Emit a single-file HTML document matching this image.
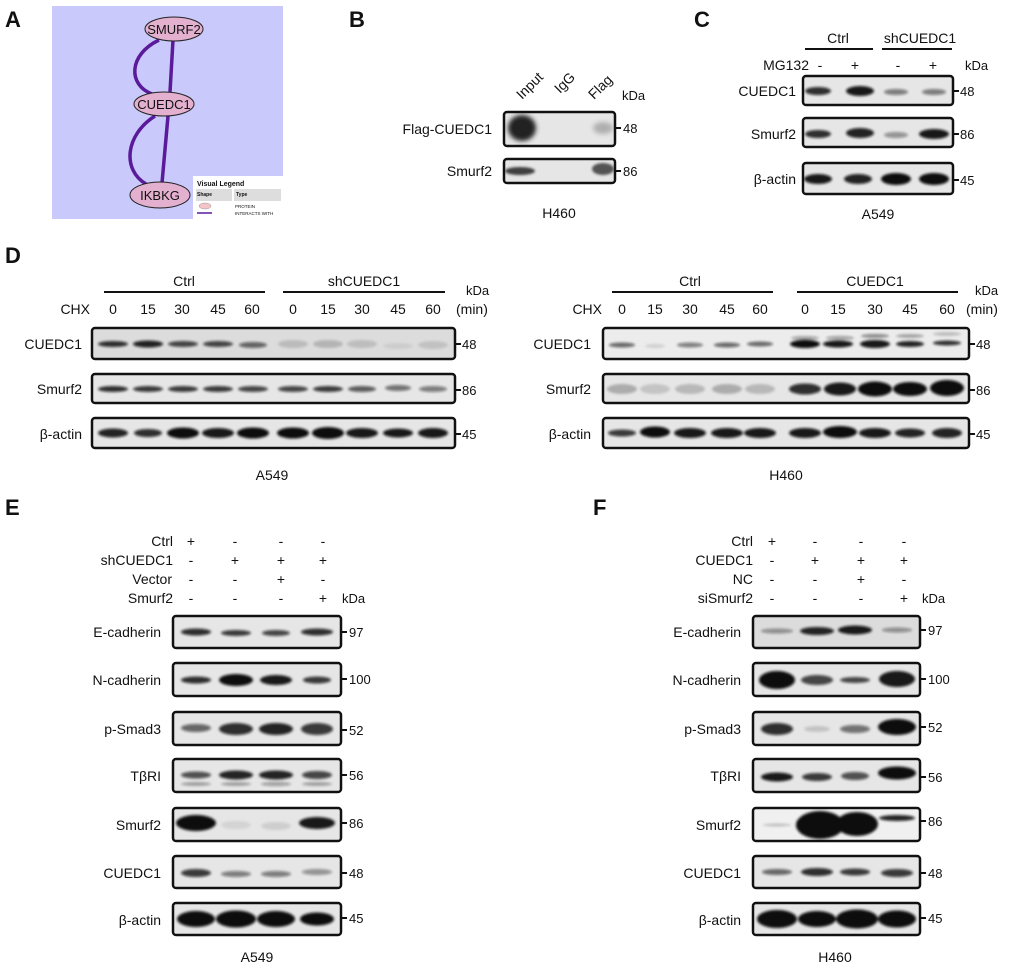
<!DOCTYPE html>
<html><head><meta charset="utf-8"><style>
body{margin:0;background:#fff}
svg{display:block}
text{font-family:"Liberation Sans",Arial,sans-serif;fill:#111}
.pl{font-size:22px;font-weight:bold}
.t{font-size:14px}
.k{font-size:13px}
.n{font-size:13px}
.box{fill:#e6e6e6;stroke:#111;stroke-width:2.5}
</style></head><body>
<svg width="1020" height="968" viewBox="0 0 1020 968" xmlns="http://www.w3.org/2000/svg">
<defs>
<filter id="b" x="-30%" y="-80%" width="160%" height="260%"><feGaussianBlur stdDeviation="1.4"/></filter>
<filter id="b2" x="-30%" y="-80%" width="160%" height="260%"><feGaussianBlur stdDeviation="2.5"/></filter>
</defs>

<!-- Panel A -->
<text class="pl" x="5" y="27">A</text>
<rect x="52" y="6" width="231" height="213" fill="#c9c9fb"/>
<g stroke="#5a1a9a" stroke-width="3.5" fill="none">
<path d="M173 40 L170 92"/>
<path d="M159 40 C128 55,128 85,152 94"/>
<path d="M168 116 L162 183"/>
<path d="M155 116 C125 135,122 170,146 184"/>
</g>
<g stroke="#222" stroke-width="1" fill="#e3b0cf">
<ellipse cx="174" cy="29" rx="29" ry="12"/>
<ellipse cx="164" cy="104" rx="30" ry="12"/>
<ellipse cx="160" cy="195" rx="30" ry="13"/>
</g>
<text x="174" y="34" font-size="13" text-anchor="middle">SMURF2</text>
<text x="164" y="109" font-size="13" text-anchor="middle">CUEDC1</text>
<text x="160" y="200" font-size="13" text-anchor="middle">IKBKG</text>
<rect x="193" y="176" width="90" height="44" fill="#fff"/>
<text x="197" y="186" font-size="7" font-weight="bold">Visual Legend</text>
<rect x="196" y="189" width="36" height="12" fill="#ddd"/>
<rect x="234" y="189" width="47" height="12" fill="#ddd"/>
<text x="197" y="196" font-size="5" font-weight="bold">Shape</text>
<text x="236" y="196" font-size="5" font-weight="bold">Type</text>
<ellipse cx="205" cy="206" rx="6" ry="3" fill="#f4c4c8" stroke="#999" stroke-width="0.5"/>
<line x1="197" y1="213" x2="212" y2="213" stroke="#5a1a9a" stroke-width="1.5"/>
<text x="235" y="208" font-size="4.5">PROTEIN</text>
<text x="235" y="215" font-size="4.5">INTERACTS WITH</text>

<!-- Panel B -->
<text class="pl" x="349" y="27">B</text>
<text class="t" transform="translate(522,100) rotate(-45)">Input</text>
<text class="t" transform="translate(560,94) rotate(-45)">IgG</text>
<text class="t" transform="translate(594,100) rotate(-45)">Flag</text>
<text class="k" x="622" y="100">kDa</text>
<rect class="box" x="504" y="112" width="111" height="34" rx="3"/>
<rect class="box" x="504" y="159" width="111" height="24" rx="3"/>
<ellipse cx="522" cy="128" rx="14" ry="13" fill="#222" filter="url(#b2)"/>
<ellipse cx="603" cy="128" rx="10" ry="6" fill="#333" opacity="0.3" filter="url(#b2)"/>
<ellipse cx="520" cy="171" rx="15" ry="4" fill="#222" opacity="0.85" filter="url(#b)"/>
<ellipse cx="603" cy="169" rx="11" ry="6" fill="#222" opacity="0.75" filter="url(#b)"/>
<text class="t" x="492" y="134" text-anchor="end">Flag-CUEDC1</text>
<text class="t" x="492" y="176" text-anchor="end">Smurf2</text>
<path d="M615 128h6M615 171h6" stroke="#111" stroke-width="2"/>
<text class="n" x="623" y="133">48</text>
<text class="n" x="623" y="176">86</text>
<text class="t" x="559" y="218" text-anchor="middle">H460</text>

<!-- Panel C -->
<text class="pl" x="694" y="27">C</text>
<text class="t" x="838" y="43" text-anchor="middle">Ctrl</text>
<text class="t" x="920" y="43" text-anchor="middle">shCUEDC1</text>
<path d="M805 49h68M882 49h70" stroke="#111" stroke-width="2"/>
<text class="t" x="809" y="70" text-anchor="end">MG132</text>
<g class="t" text-anchor="middle"><text x="820" y="70">-</text><text x="855" y="70">+</text><text x="898" y="70">-</text><text x="933" y="70">+</text></g>
<text class="k" x="965" y="70">kDa</text>
<rect class="box" x="803" y="76" width="150" height="29" rx="3"/>
<rect class="box" x="803" y="118" width="150" height="29" rx="3"/>
<rect class="box" x="803" y="163" width="150" height="31" rx="3"/>
<g fill="#111" filter="url(#b)">
<ellipse cx="818" cy="91" rx="13" ry="4" opacity="0.85"/><ellipse cx="860" cy="91" rx="14" ry="5" opacity="0.95"/><ellipse cx="896" cy="92" rx="12" ry="3" opacity="0.5"/><ellipse cx="934" cy="92" rx="12" ry="3" opacity="0.5"/>
<ellipse cx="818" cy="134" rx="13" ry="4" opacity="0.85"/><ellipse cx="860" cy="133" rx="14" ry="5" opacity="0.9"/><ellipse cx="896" cy="135" rx="12" ry="3" opacity="0.4"/><ellipse cx="934" cy="134" rx="15" ry="5" opacity="0.95"/>
<ellipse cx="818" cy="179" rx="14" ry="5" opacity="0.95"/><ellipse cx="858" cy="179" rx="14" ry="5" opacity="0.9"/><ellipse cx="896" cy="179" rx="15" ry="6" opacity="1"/><ellipse cx="934" cy="179" rx="15" ry="6" opacity="1"/>
</g>
<text class="t" x="796" y="96" text-anchor="end">CUEDC1</text>
<text class="t" x="796" y="139" text-anchor="end">Smurf2</text>
<text class="t" x="796" y="184" text-anchor="end">β-actin</text>
<path d="M953 91h6M953 134h6M953 180h6" stroke="#111" stroke-width="2"/>
<text class="n" x="960" y="96">48</text><text class="n" x="960" y="139">86</text><text class="n" x="960" y="185">45</text>
<text class="t" x="878" y="219" text-anchor="middle">A549</text>

<!-- Panel D -->
<text class="pl" x="5" y="263">D</text>
<g class="t" text-anchor="middle">
<text x="184" y="286">Ctrl</text><text x="364" y="286">shCUEDC1</text>
<text x="690" y="286">Ctrl</text><text x="875" y="286">CUEDC1</text>
</g>
<path d="M104 292h161M283 292h162M612 292h161M797 292h161" stroke="#111" stroke-width="2"/>
<text class="k" x="466" y="295">kDa</text><text class="t" x="456" y="314">(min)</text>
<text class="k" x="975" y="295">kDa</text><text class="t" x="966" y="314">(min)</text>
<text class="t" x="90" y="314" text-anchor="end">CHX</text>
<text class="t" x="602" y="314" text-anchor="end">CHX</text>
<g class="t" text-anchor="middle">
<text x="113" y="314">0</text><text x="148" y="314">15</text><text x="182" y="314">30</text><text x="218" y="314">45</text><text x="252" y="314">60</text>
<text x="293" y="314">0</text><text x="328" y="314">15</text><text x="362" y="314">30</text><text x="398" y="314">45</text><text x="433" y="314">60</text>
<text x="622" y="314">0</text><text x="655" y="314">15</text><text x="690" y="314">30</text><text x="727" y="314">45</text><text x="760" y="314">60</text>
<text x="805" y="314">0</text><text x="838" y="314">15</text><text x="875" y="314">30</text><text x="910" y="314">45</text><text x="947" y="314">60</text>
</g>
<rect class="box" x="92" y="328" width="363" height="31" rx="3" style="fill:#dcdcdc"/>
<rect class="box" x="92" y="374" width="363" height="29" rx="3"/>
<rect class="box" x="92" y="418" width="363" height="30" rx="3"/>
<rect class="box" x="603" y="328" width="366" height="31" rx="3" style="fill:#ececec"/>
<rect class="box" x="603" y="374" width="366" height="29" rx="3"/>
<rect class="box" x="603" y="418" width="366" height="30" rx="3"/>
<g fill="#111" filter="url(#b)">
<ellipse cx="113" cy="344" rx="15" ry="3" opacity="0.85"/><ellipse cx="148" cy="344" rx="15" ry="3.5" opacity="0.9"/><ellipse cx="183" cy="344" rx="15" ry="3" opacity="0.75"/><ellipse cx="218" cy="344" rx="15" ry="3" opacity="0.75"/><ellipse cx="253" cy="345" rx="14" ry="3" opacity="0.6"/>
<ellipse cx="293" cy="344" rx="15" ry="4" opacity="0.15"/><ellipse cx="328" cy="344" rx="15" ry="4" opacity="0.18"/><ellipse cx="362" cy="344" rx="15" ry="4" opacity="0.14"/><ellipse cx="398" cy="346" rx="15" ry="3" opacity="0.07"/><ellipse cx="433" cy="345" rx="15" ry="4" opacity="0.12"/>
<ellipse cx="113" cy="389" rx="15" ry="3" opacity="0.85"/><ellipse cx="148" cy="389" rx="15" ry="3" opacity="0.8"/><ellipse cx="183" cy="389" rx="15" ry="3" opacity="0.8"/><ellipse cx="218" cy="389" rx="15" ry="3" opacity="0.8"/><ellipse cx="253" cy="389" rx="15" ry="3" opacity="0.75"/>
<ellipse cx="293" cy="389" rx="15" ry="3" opacity="0.75"/><ellipse cx="328" cy="389" rx="15" ry="3" opacity="0.8"/><ellipse cx="362" cy="389" rx="14" ry="3" opacity="0.65"/><ellipse cx="398" cy="388" rx="13" ry="3" opacity="0.55"/><ellipse cx="433" cy="389" rx="14" ry="3" opacity="0.5"/>
<ellipse cx="113" cy="433" rx="15" ry="4.5" opacity="0.9"/><ellipse cx="148" cy="433" rx="14" ry="4" opacity="0.85"/><ellipse cx="183" cy="433" rx="16" ry="5.5" opacity="1"/><ellipse cx="218" cy="433" rx="16" ry="5" opacity="0.95"/><ellipse cx="253" cy="433" rx="16" ry="5.5" opacity="1"/>
<ellipse cx="293" cy="433" rx="16" ry="5.5" opacity="1"/><ellipse cx="328" cy="433" rx="16" ry="6" opacity="1"/><ellipse cx="362" cy="433" rx="16" ry="5" opacity="0.95"/><ellipse cx="398" cy="433" rx="15" ry="4.5" opacity="0.95"/><ellipse cx="433" cy="433" rx="15" ry="5" opacity="0.95"/>
<ellipse cx="622" cy="345" rx="13" ry="2.5" opacity="0.6"/><ellipse cx="655" cy="346" rx="10" ry="2" opacity="0.12"/><ellipse cx="690" cy="345" rx="13" ry="2.5" opacity="0.5"/><ellipse cx="727" cy="345" rx="13" ry="2.5" opacity="0.6"/><ellipse cx="760" cy="344" rx="13" ry="2.5" opacity="0.6"/>
<ellipse cx="805" cy="344" rx="15" ry="4" opacity="1"/><ellipse cx="838" cy="344" rx="15" ry="3.5" opacity="0.95"/><ellipse cx="875" cy="344" rx="15" ry="4" opacity="0.95"/><ellipse cx="910" cy="344" rx="14" ry="3" opacity="0.9"/><ellipse cx="947" cy="343" rx="14" ry="2.5" opacity="0.85"/>
<ellipse cx="805" cy="338" rx="14" ry="2" opacity="0.3"/><ellipse cx="840" cy="338" rx="14" ry="2" opacity="0.35"/><ellipse cx="875" cy="336" rx="14" ry="2" opacity="0.45"/><ellipse cx="910" cy="336" rx="14" ry="2" opacity="0.3"/><ellipse cx="947" cy="334" rx="14" ry="2" opacity="0.2"/>
<ellipse cx="622" cy="389" rx="15" ry="5" opacity="0.25"/><ellipse cx="655" cy="389" rx="15" ry="5" opacity="0.15"/><ellipse cx="690" cy="389" rx="15" ry="5" opacity="0.2"/><ellipse cx="727" cy="389" rx="15" ry="5" opacity="0.25"/><ellipse cx="760" cy="389" rx="15" ry="5" opacity="0.2"/>
<ellipse cx="805" cy="389" rx="16" ry="5.5" opacity="0.85"/><ellipse cx="840" cy="389" rx="16" ry="6.5" opacity="0.95"/><ellipse cx="875" cy="389" rx="17" ry="7.5" opacity="1"/><ellipse cx="910" cy="389" rx="17" ry="7" opacity="1"/><ellipse cx="947" cy="388" rx="17" ry="8" opacity="1"/>
<ellipse cx="622" cy="433" rx="14" ry="3.5" opacity="0.8"/><ellipse cx="655" cy="432" rx="15" ry="5.5" opacity="1"/><ellipse cx="690" cy="433" rx="16" ry="5" opacity="0.95"/><ellipse cx="727" cy="433" rx="16" ry="5" opacity="0.95"/><ellipse cx="760" cy="433" rx="16" ry="5" opacity="0.95"/>
<ellipse cx="805" cy="433" rx="16" ry="5" opacity="0.95"/><ellipse cx="840" cy="432" rx="17" ry="6" opacity="1"/><ellipse cx="875" cy="433" rx="16" ry="5" opacity="0.95"/><ellipse cx="910" cy="433" rx="15" ry="4.5" opacity="0.9"/><ellipse cx="947" cy="433" rx="15" ry="5" opacity="0.9"/>
</g>
<g class="t" text-anchor="end">
<text x="82" y="349">CUEDC1</text><text x="82" y="394">Smurf2</text><text x="82" y="439">β-actin</text>
<text x="591" y="349">CUEDC1</text><text x="591" y="394">Smurf2</text><text x="591" y="439">β-actin</text>
</g>
<path d="M455 344h6M455 390h6M455 434h6M969 344h6M969 390h6M969 434h6" stroke="#111" stroke-width="2"/>
<g class="n"><text x="462" y="349">48</text><text x="462" y="395">86</text><text x="462" y="439">45</text>
<text x="976" y="349">48</text><text x="976" y="395">86</text><text x="976" y="439">45</text></g>
<text class="t" x="272" y="480" text-anchor="middle">A549</text>
<text class="t" x="786" y="480" text-anchor="middle">H460</text>

<!-- Panel E -->
<text class="pl" x="5" y="515">E</text>
<g class="t" text-anchor="end">
<text x="173" y="546">Ctrl</text><text x="173" y="565">shCUEDC1</text><text x="172" y="584">Vector</text><text x="173" y="603">Smurf2</text>
</g>
<g class="t" text-anchor="middle">
<text x="191" y="546">+</text><text x="235" y="546">-</text><text x="281" y="546">-</text><text x="323" y="546">-</text>
<text x="191" y="565">-</text><text x="235" y="565">+</text><text x="281" y="565">+</text><text x="323" y="565">+</text>
<text x="191" y="584">-</text><text x="235" y="584">-</text><text x="281" y="584">+</text><text x="323" y="584">-</text>
<text x="191" y="603">-</text><text x="235" y="603">-</text><text x="281" y="603">-</text><text x="323" y="603">+</text>
</g>
<text class="k" x="342" y="603">kDa</text>

<!-- Panel F -->
<text class="pl" x="593" y="515">F</text>
<g class="t" text-anchor="end">
<text x="753" y="546">Ctrl</text><text x="753" y="565">CUEDC1</text><text x="753" y="584">NC</text><text x="753" y="603">siSmurf2</text>
</g>
<g class="t" text-anchor="middle">
<text x="772" y="546">+</text><text x="815" y="546">-</text><text x="861" y="546">-</text><text x="904" y="546">-</text>
<text x="772" y="565">-</text><text x="815" y="565">+</text><text x="861" y="565">+</text><text x="904" y="565">+</text>
<text x="772" y="584">-</text><text x="815" y="584">-</text><text x="861" y="584">+</text><text x="904" y="584">-</text>
<text x="772" y="603">-</text><text x="815" y="603">-</text><text x="861" y="603">-</text><text x="904" y="603">+</text>
</g>
<text class="k" x="922" y="603">kDa</text>

<!-- E/F boxes -->
<g>
<rect class="box" x="173" y="616" width="168" height="32" rx="3"/>
<rect class="box" x="173" y="663" width="168" height="33" rx="3"/>
<rect class="box" x="173" y="712" width="168" height="33" rx="3"/>
<rect class="box" x="173" y="759" width="168" height="33" rx="3"/>
<rect class="box" x="173" y="808" width="168" height="33" rx="3"/>
<rect class="box" x="173" y="856" width="168" height="32" rx="3"/>
<rect class="box" x="173" y="903" width="168" height="32" rx="3"/>
<rect class="box" x="753" y="616" width="167" height="32" rx="3" style="fill:#dcdcdc"/>
<rect class="box" x="753" y="663" width="167" height="33" rx="3"/>
<rect class="box" x="753" y="712" width="167" height="33" rx="3"/>
<rect class="box" x="753" y="759" width="167" height="33" rx="3"/>
<rect class="box" x="753" y="808" width="167" height="33" rx="3" style="fill:#f0f0f0"/>
<rect class="box" x="753" y="856" width="167" height="32" rx="3"/>
<rect class="box" x="753" y="903" width="167" height="32" rx="3"/>
</g>
<g fill="#111" filter="url(#b)">
<!-- E -->
<ellipse cx="196" cy="632" rx="15" ry="3.5" opacity="0.85"/><ellipse cx="236" cy="633" rx="15" ry="3" opacity="0.8"/><ellipse cx="276" cy="633" rx="14" ry="3" opacity="0.75"/><ellipse cx="317" cy="632" rx="16" ry="3.5" opacity="0.85"/>
<ellipse cx="196" cy="680" rx="15" ry="3.5" opacity="0.85"/><ellipse cx="236" cy="680" rx="17" ry="6" opacity="1"/><ellipse cx="276" cy="680" rx="16" ry="5" opacity="0.95"/><ellipse cx="317" cy="680" rx="14" ry="3.5" opacity="0.8"/>
<ellipse cx="196" cy="728" rx="15" ry="4" opacity="0.6"/><ellipse cx="236" cy="729" rx="17" ry="6" opacity="0.85"/><ellipse cx="276" cy="729" rx="17" ry="6" opacity="0.9"/><ellipse cx="317" cy="729" rx="16" ry="6" opacity="0.8"/>
<ellipse cx="196" cy="775" rx="15" ry="3.5" opacity="0.7"/><ellipse cx="236" cy="775" rx="17" ry="4.5" opacity="0.9"/><ellipse cx="276" cy="775" rx="17" ry="4.5" opacity="0.9"/><ellipse cx="317" cy="775" rx="15" ry="4" opacity="0.75"/>
<ellipse cx="196" cy="784" rx="15" ry="2" opacity="0.3"/><ellipse cx="236" cy="784" rx="15" ry="2" opacity="0.3"/><ellipse cx="276" cy="784" rx="15" ry="2" opacity="0.35"/><ellipse cx="317" cy="784" rx="15" ry="2" opacity="0.3"/>
<ellipse cx="196" cy="823" rx="20" ry="8" opacity="1"/><ellipse cx="236" cy="825" rx="15" ry="4" opacity="0.08"/><ellipse cx="276" cy="826" rx="15" ry="4" opacity="0.1"/><ellipse cx="317" cy="823" rx="18" ry="6" opacity="0.95"/>
<ellipse cx="196" cy="873" rx="15" ry="4" opacity="0.8"/><ellipse cx="236" cy="874" rx="15" ry="3" opacity="0.5"/><ellipse cx="276" cy="874" rx="15" ry="3" opacity="0.5"/><ellipse cx="317" cy="872" rx="15" ry="3" opacity="0.4"/>
<ellipse cx="196" cy="919" rx="19" ry="8" opacity="1"/><ellipse cx="236" cy="919" rx="20" ry="8.5" opacity="1"/><ellipse cx="276" cy="919" rx="19" ry="8" opacity="1"/><ellipse cx="317" cy="919" rx="17" ry="6.5" opacity="1"/>
<!-- F -->
<ellipse cx="777" cy="631" rx="16" ry="2.5" opacity="0.4"/><ellipse cx="817" cy="631" rx="17" ry="4" opacity="0.9"/><ellipse cx="855" cy="630" rx="17" ry="4.5" opacity="0.95"/><ellipse cx="897" cy="630" rx="15" ry="2.5" opacity="0.4"/>
<ellipse cx="777" cy="680" rx="18" ry="9" opacity="1"/><ellipse cx="817" cy="680" rx="16" ry="5" opacity="0.75"/><ellipse cx="855" cy="680" rx="15" ry="3" opacity="0.75"/><ellipse cx="897" cy="679" rx="18" ry="8" opacity="0.95"/>
<ellipse cx="777" cy="729" rx="16" ry="6" opacity="0.85"/><ellipse cx="817" cy="729" rx="13" ry="3" opacity="0.15"/><ellipse cx="855" cy="729" rx="15" ry="4" opacity="0.55"/><ellipse cx="897" cy="727" rx="19" ry="8" opacity="1"/>
<ellipse cx="777" cy="777" rx="16" ry="4.5" opacity="0.95"/><ellipse cx="817" cy="777" rx="15" ry="4" opacity="0.8"/><ellipse cx="855" cy="776" rx="14" ry="4" opacity="0.7"/><ellipse cx="897" cy="773" rx="19" ry="6.5" opacity="1"/>
<ellipse cx="777" cy="825" rx="14" ry="1.5" opacity="0.2"/><ellipse cx="820" cy="825" rx="24" ry="14" opacity="1"/><ellipse cx="857" cy="824" rx="21" ry="12" opacity="1"/><ellipse cx="897" cy="818" rx="18" ry="3" opacity="0.9"/>
<ellipse cx="777" cy="872" rx="15" ry="3" opacity="0.6"/><ellipse cx="817" cy="872" rx="16" ry="4" opacity="0.85"/><ellipse cx="855" cy="872" rx="15" ry="3.5" opacity="0.8"/><ellipse cx="897" cy="873" rx="16" ry="4" opacity="0.8"/>
<ellipse cx="777" cy="919" rx="20" ry="9" opacity="1"/><ellipse cx="817" cy="919" rx="19" ry="8" opacity="1"/><ellipse cx="857" cy="919" rx="21" ry="9.5" opacity="1"/><ellipse cx="897" cy="919" rx="19" ry="8.5" opacity="1"/>
</g>
<g class="t" text-anchor="end">
<text x="161" y="637">E-cadherin</text><text x="161" y="685">N-cadherin</text><text x="161" y="734">p-Smad3</text><text x="161" y="781">TβRI</text><text x="161" y="830">Smurf2</text><text x="161" y="878">CUEDC1</text><text x="161" y="925">β-actin</text>
<text x="741" y="637">E-cadherin</text><text x="741" y="685">N-cadherin</text><text x="741" y="734">p-Smad3</text><text x="741" y="781">TβRI</text><text x="741" y="830">Smurf2</text><text x="741" y="878">CUEDC1</text><text x="741" y="925">β-actin</text>
</g>
<path d="M341 632h6M341 679h6M341 730h6M341 775h6M341 823h6M341 873h6M341 918h6M920 630h6M920 679h6M920 727h6M920 777h6M920 821h6M920 873h6M920 918h6" stroke="#111" stroke-width="2"/>
<g class="n">
<text x="349" y="637">97</text><text x="349" y="684">100</text><text x="349" y="735">52</text><text x="349" y="780">56</text><text x="349" y="828">86</text><text x="349" y="878">48</text><text x="349" y="923">45</text>
<text x="928" y="635">97</text><text x="928" y="684">100</text><text x="928" y="732">52</text><text x="928" y="782">56</text><text x="928" y="826">86</text><text x="928" y="878">48</text><text x="928" y="923">45</text>
</g>
<text class="t" x="257" y="962" text-anchor="middle">A549</text>
<text class="t" x="835" y="962" text-anchor="middle">H460</text>
</svg>
</body></html>
